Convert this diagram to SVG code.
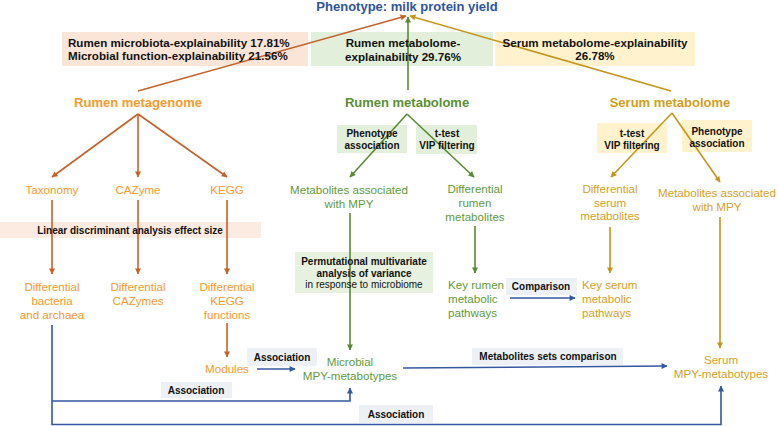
<svg xmlns="http://www.w3.org/2000/svg" width="778" height="426" viewBox="0 0 778 426">
<defs>
<style>
text{font-family:"Liberation Sans",Arial,sans-serif}
.b{font-weight:bold}
.m{text-anchor:middle}
.t10{font-size:10px;font-weight:bold;fill:#111}
.r10{font-size:10px;fill:#111}
.t12{font-size:11.6px;font-weight:bold;fill:#111}
.h{font-size:13px;font-weight:bold}
.lab{font-size:11.6px}
.or{fill:#f39b2e}
.gr{fill:#5f9a3c}
.go{fill:#d4a11f}
.grh{fill:#5a8f36}
.goh{fill:#cf9e1c}
.c{fill:none;stroke-width:1.6}
.co{stroke:#c5622b}
.cg{stroke:#5a8a34}
.cy{stroke:#c4961a}
.cb{stroke:#3558a0}
.lb{fill:#edf0f4}
</style>
<marker id="ao" viewBox="0 0 10 10" refX="9" refY="5" markerWidth="7" markerHeight="6" markerUnits="userSpaceOnUse" orient="auto"><path d="M0,0L10,5L0,10z" fill="#c5622b"/></marker>
<marker id="ag" viewBox="0 0 10 10" refX="9" refY="5" markerWidth="7" markerHeight="6" markerUnits="userSpaceOnUse" orient="auto"><path d="M0,0L10,5L0,10z" fill="#5a8a34"/></marker>
<marker id="ay" viewBox="0 0 10 10" refX="9" refY="5" markerWidth="7" markerHeight="6" markerUnits="userSpaceOnUse" orient="auto"><path d="M0,0L10,5L0,10z" fill="#c4961a"/></marker>
<marker id="ab" viewBox="0 0 10 10" refX="9" refY="5" markerWidth="7" markerHeight="6" markerUnits="userSpaceOnUse" orient="auto"><path d="M0,0L10,5L0,10z" fill="#3558a0"/></marker>
</defs>

<!-- label boxes -->
<g id="labels">
<rect x="62" y="32" width="246" height="34" fill="#fbe5d6"/>
<rect x="311" y="32" width="182" height="34" fill="#e2efda"/>
<rect x="495" y="32" width="200" height="34" fill="#fff2cc"/>
<rect x="0" y="222" width="261" height="16" fill="#fcebe1"/>
<rect x="337" y="125" width="70" height="28" fill="#e2efda"/>
<rect x="416" y="125" width="61" height="29" fill="#e2efda"/>
<rect x="597" y="123" width="70" height="30" fill="#fff2cc"/>
<rect x="682" y="120" width="70" height="32" fill="#fff2cc"/>
<rect x="295" y="252" width="138" height="41" fill="#e6f1df"/>
<rect x="506" y="278" width="71" height="17" class="lb"/>
<rect x="247" y="348" width="70" height="18" class="lb"/>
<rect x="161" y="382" width="71" height="16" class="lb"/>
<rect x="359" y="405" width="74" height="18" class="lb"/>
<rect x="472" y="348" width="151" height="17" class="lb"/>
</g>

<g id="connectors">
<path class="c co" d="M138,91L406,16" marker-end="url(#ao)"/>
<path class="c cg" d="M408,90L408,17" marker-end="url(#ag)"/>
<path class="c cy" d="M671,91L410,16" marker-end="url(#ay)"/>

<path class="c co" d="M138,114L52,177" marker-end="url(#ao)"/>
<path class="c co" d="M138,114L138,177" marker-end="url(#ao)"/>
<path class="c co" d="M138,114L227,177" marker-end="url(#ao)"/>
<path class="c co" d="M52,200L52,274" marker-end="url(#ao)"/>
<path class="c co" d="M138,200L138,274" marker-end="url(#ao)"/>
<path class="c co" d="M227,200L227,274" marker-end="url(#ao)"/>
<path class="c co" d="M227,323L227,357" marker-end="url(#ao)"/>

<path class="c cg" d="M407,114L350,177" marker-end="url(#ag)"/>
<path class="c cg" d="M407,114L474,177" marker-end="url(#ag)"/>
<path class="c cg" d="M475,226L475,273" marker-end="url(#ag)"/>
<path class="c cg" d="M350,213L350,350" marker-end="url(#ag)"/>

<path class="c cy" d="M672,113L611,177" marker-end="url(#ay)"/>
<path class="c cy" d="M672,113L720,182" marker-end="url(#ay)"/>
<path class="c cy" d="M610,227L610,273" marker-end="url(#ay)"/>
<path class="c cy" d="M720,217L720,348" marker-end="url(#ay)"/>

<path class="c cb" d="M257,369L295,369" marker-end="url(#ab)"/>
<path class="c cb" d="M510,298L575,298" marker-end="url(#ab)"/>
<path class="c cb" d="M403,368L667,366" marker-end="url(#ab)"/>
<path class="c cb" d="M52,325L52,424.5L721,424.5L721,386" marker-end="url(#ab)"/>
<path class="c cb" d="M52,401L350,401L350,388" marker-end="url(#ab)"/>
</g>

<!-- label texts -->
<g id="label-texts">
<text class="t12" x="68" y="47">Rumen microbiota-explainability 17.81%</text>
<text class="t12" x="68" y="60">Microbial function-explainability 21.56%</text>
<text class="t12 m" x="403" y="47">Rumen metabolome-</text>
<text class="t12 m" x="403" y="61">explainability 29.76%</text>
<text class="t12 m" x="595" y="47">Serum metabolome-explainability</text>
<text class="t12 m" x="595" y="60">26.78%</text>
<text class="t10 m" x="130" y="234">Linear discriminant analysis effect size</text>
<text class="t10 m" x="372" y="137">Phenotype</text>
<text class="t10 m" x="372" y="149">association</text>
<text class="t10 m" x="447" y="137">t-test</text>
<text class="t10 m" x="447" y="149">VIP filtering</text>
<text class="t10 m" x="632" y="137">t-test</text>
<text class="t10 m" x="632" y="149">VIP filtering</text>
<text class="t10 m" x="717" y="135">Phenotype</text>
<text class="t10 m" x="717" y="147">association</text>
<text class="t10 m" x="364" y="265">Permutational multivariate</text>
<text class="t10 m" x="364" y="277">analysis of variance</text>
<text class="r10 m" x="364" y="288">in response to microbiome</text>
<text class="t10 m" x="541" y="290">Comparison</text>
<text class="t10 m" x="282" y="361">Association</text>
<text class="t10 m" x="196" y="394">Association</text>
<text class="t10 m" x="396" y="418">Association</text>
<text class="t10 m" x="548" y="360">Metabolites sets comparison</text>
</g>

<g id="phenotype"><text class="h m" x="407" y="11" fill="#2f5597">Phenotype: milk protein yield</text></g>

<g id="rumen-metagenome"><text class="h m or" x="138" y="107">Rumen metagenome</text></g>
<g id="rumen-metabolome"><text class="h m grh" x="407" y="107">Rumen metabolome</text></g>
<g id="serum-metabolome"><text class="h m goh" x="670" y="107">Serum metabolome</text></g>

<g id="taxonomy"><text class="lab m or" x="52" y="194">Taxonomy</text></g>
<g id="cazyme"><text class="lab m or" x="138" y="194">CAZyme</text></g>
<g id="kegg"><text class="lab m or" x="227" y="194">KEGG</text></g>

<g id="diff-bacteria"><text class="lab m or" x="52" y="291">Differential</text><text class="lab m or" x="52" y="305">bacteria</text><text class="lab m or" x="52" y="319">and archaea</text></g>
<g id="diff-cazymes"><text class="lab m or" x="138" y="291">Differential</text><text class="lab m or" x="138" y="305">CAZymes</text></g>
<g id="diff-kegg"><text class="lab m or" x="227" y="291">Differential</text><text class="lab m or" x="227" y="305">KEGG</text><text class="lab m or" x="227" y="319">functions</text></g>
<g id="modules"><text class="lab m or" x="227" y="373">Modules</text></g>

<g id="rumen-assoc"><text class="lab m gr" x="349" y="194">Metabolites associated</text><text class="lab m gr" x="349" y="208">with MPY</text></g>
<g id="diff-rumen"><text class="lab m gr" x="475" y="193">Differential</text><text class="lab m gr" x="475" y="207">rumen</text><text class="lab m gr" x="475" y="221">metabolites</text></g>
<g id="key-rumen"><text class="lab gr" x="448" y="289">Key rumen</text><text class="lab gr" x="448" y="303">metabolic</text><text class="lab gr" x="448" y="317">pathways</text></g>
<g id="microbial-mpy"><text class="lab m gr" x="350" y="366">Microbial</text><text class="lab m gr" x="350" y="380">MPY-metabotypes</text></g>

<g id="diff-serum"><text class="lab m go" x="610" y="193">Differential</text><text class="lab m go" x="610" y="207">serum</text><text class="lab m go" x="610" y="220">metabolites</text></g>
<g id="serum-assoc"><text class="lab m go" x="717" y="197">Metabolites associated</text><text class="lab m go" x="717" y="211">with MPY</text></g>
<g id="key-serum"><text class="lab go" x="582" y="289">Key serum</text><text class="lab go" x="582" y="303">metabolic</text><text class="lab go" x="582" y="317">pathways</text></g>
<g id="serum-mpy"><text class="lab m go" x="721" y="364">Serum</text><text class="lab m go" x="721" y="378">MPY-metabotypes</text></g>
</svg>
